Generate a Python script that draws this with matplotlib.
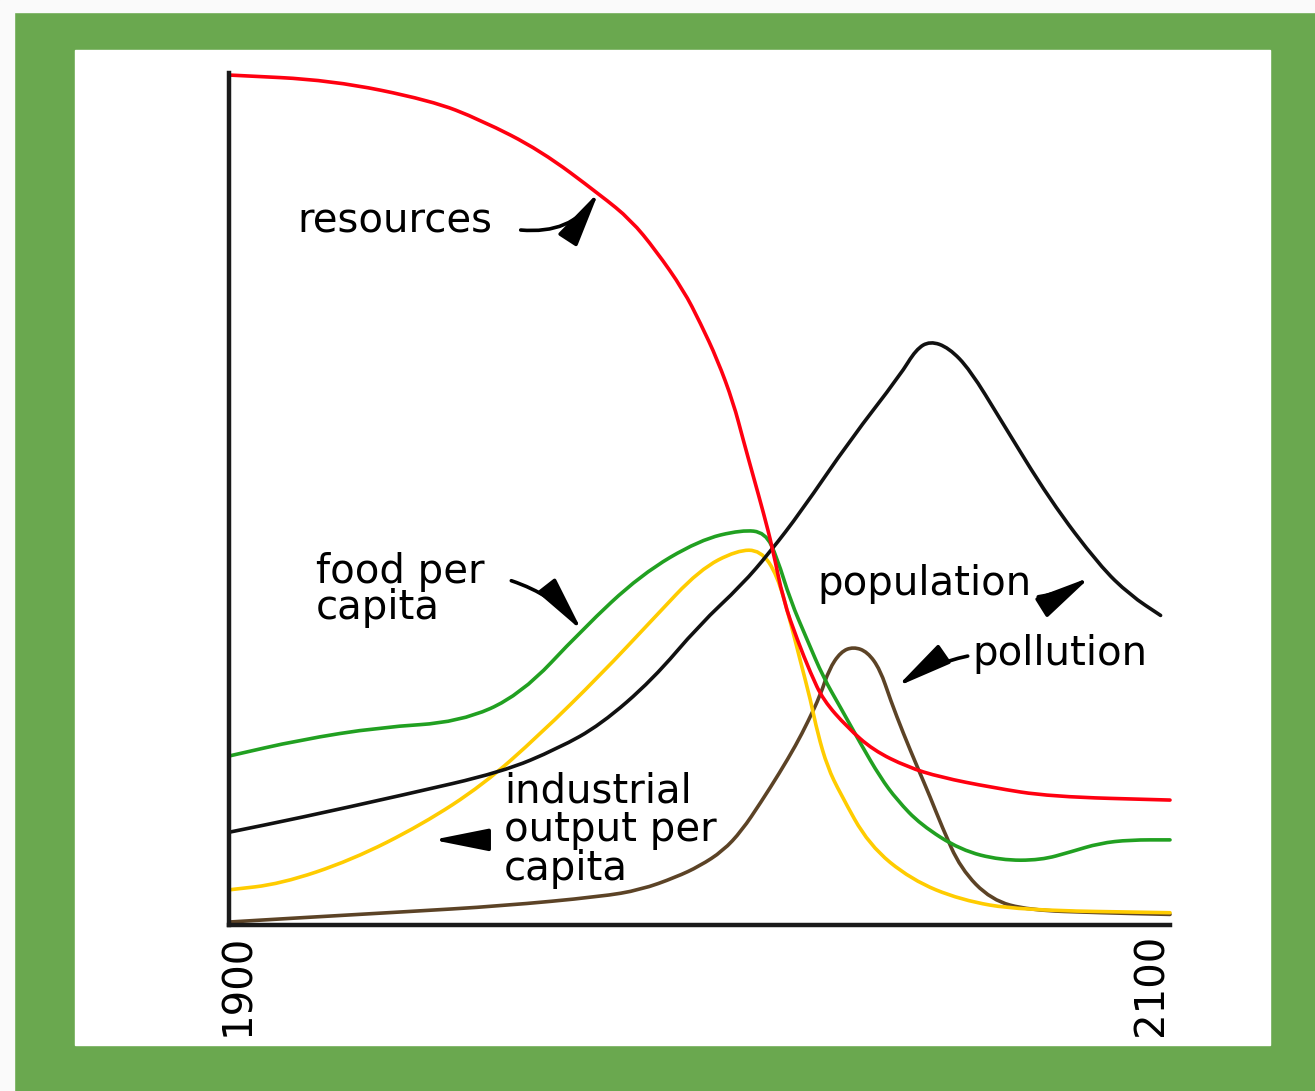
import matplotlib.pyplot as plt
from matplotlib.patches import Rectangle, PathPatch
from matplotlib.path import Path

# values (year, relative level 0-100)
resources_years = [1900, 1921.7, 1942.9, 1953.5, 1966.2, 1979, 1985.4, 1990.7, 1996.6, 2000.2,
                   2003.8, 2007.2, 2009.3, 2011.5, 2013.6, 2015.5, 2017.8, 2020.8, 2023.6, 2026.3,
                   2031.4, 2036.9, 2044.2, 2051.2, 2062, 2074.5, 2100]
resources_vals = [100, 99.4, 97.0, 94.7, 91.1, 85.8, 82.9, 79.3, 74.6, 70.7,
                  66.4, 61.3, 56.9, 52.5, 48.3, 44.2, 38.0, 33.3, 29.4, 26.2,
                  23.0, 20.3, 18.3, 17.1, 15.9, 14.8, 14.4]

population_years = [1900, 1915, 1937, 1958, 1970, 1979, 1990, 2000, 2009, 2015, 2021.5, 2032,
                    2042.7, 2046, 2049, 2053, 2057.5, 2064, 2074.5, 2085, 2091.5, 2098]
population_vals = [10.6, 12.3, 15.0, 17.7, 20.5, 23.3, 28.6, 35.1, 39.8, 43.7, 48.4, 56.9,
                   64.6, 67.6, 68.6, 67.8, 65.2, 59.3, 49.8, 42.1, 38.6, 36.2]

food_years = [1900, 1915, 1932, 1949, 1962, 1975, 1987.5, 2000, 2009, 2014, 2016.5, 2019.3,
              2022.9, 2026.3, 2029.9, 2034.2, 2038.4, 2042, 2047, 2055.5, 2064, 2072.5,
              2079, 2085, 2091.5, 2100]
food_vals = [19.6, 21.5, 23.0, 23.6, 26.8, 34.5, 41.0, 45.1, 46.3, 46.0, 43.0, 38.0,
             33.3, 28.9, 25.4, 21.1, 17.1, 14.4, 11.5, 8.5, 7.3, 7.3,
             8.3, 9.3, 9.7, 9.7]

industry_years = [1900, 1911, 1926, 1941, 1954, 1966, 1979, 1990, 2000, 2008, 2013, 2016.5,
                  2019.3, 2021.4, 2023.6, 2025.1, 2027.2, 2029.9, 2036, 2045, 2055.5, 2068, 2100]
industry_vals = [3.8, 4.5, 7.3, 11.5, 16.2, 22.1, 29.2, 35.7, 41.6, 43.9, 43.9, 41.0,
                 35.5, 30.9, 26.2, 22.3, 18.3, 15.2, 9.1, 5.0, 2.6, 1.4, 1.1]

pollution_years = [1900, 1915, 1937, 1958, 1979, 1987.5, 1995, 2000, 2005, 2009, 2013, 2017,
                   2020.5, 2023, 2025.7, 2027.5, 2030, 2032.7, 2035.7, 2038.4, 2040.6, 2043.3,
                   2046.3, 2049, 2051.5, 2055.5, 2062, 2070, 2085, 2100]
pollution_vals = [0, 0.5, 1.2, 1.9, 3.0, 3.8, 5.3, 6.6, 8.4, 10.8, 14.1, 17.6,
                  20.9, 23.6, 26.8, 29.8, 31.9, 32.5, 31.9, 29.8, 26.2, 22.3,
                  18.3, 14.8, 11.3, 6.3, 2.6, 1.4, 1.1, 0.9]


# smooth curve: read points used as quadratic control points
def smooth_line(ax, xs, ys, color, lw):
    pts = list(zip(xs, ys))
    verts = [pts[0], ((pts[0][0] + pts[1][0]) / 2, (pts[0][1] + pts[1][1]) / 2)]
    codes = [Path.MOVETO, Path.LINETO]
    for i in range(1, len(pts) - 1):
        mid = ((pts[i][0] + pts[i + 1][0]) / 2, (pts[i][1] + pts[i + 1][1]) / 2)
        verts += [pts[i], mid]
        codes += [Path.CURVE3, Path.CURVE3]
    verts.append(pts[-1])
    codes.append(Path.LINETO)
    ax.add_patch(PathPatch(Path(verts, codes), facecolor='none', edgecolor=color,
                           lw=lw, clip_on=False, capstyle='round', joinstyle='round'))


W, H = 1315, 1091
fig = plt.figure(figsize=(W / 100, H / 100), dpi=100)
fig.patch.set_facecolor('#6aa84f')

# light strip top/left and white panel
for r in [Rectangle((0, 0), 14 / W, 1),
          Rectangle((0, 1 - 12 / H), 1, 12 / H)]:
    r.set(transform=fig.transFigure, color='#fafafa', zorder=-5)
    fig.patches.append(r)
panel = Rectangle((75 / W, 1 - 1045 / H), (1270 - 75) / W, (1045 - 50) / H,
                  transform=fig.transFigure, color='white', zorder=-5)
fig.patches.append(panel)

ax = fig.add_axes([229 / W, 1 - 925 / H, (1170 - 229) / W, (925 - 73) / H])
ax.set_zorder(2)
ax.set_facecolor('none')
ax.set_xlim(1900, 2100)
ax.set_ylim(-0.35, 100.24)

lw = 2.6
smooth_line(ax, pollution_years, pollution_vals, '#5c4326', lw)
smooth_line(ax, industry_years, industry_vals, '#ffcc00', lw)
smooth_line(ax, food_years, food_vals, '#21a021', lw)
smooth_line(ax, population_years, population_vals, '#111111', lw)
smooth_line(ax, resources_years, resources_vals, '#ff0010', lw)

for side in ['top', 'right']:
    ax.spines[side].set_visible(False)
for side in ['left', 'bottom']:
    ax.spines[side].set_linewidth(3.2)
    ax.spines[side].set_color('#1a1a1a')
ax.set_xticks([])
ax.set_yticks([])

fs = 29
tkw = dict(fontsize=fs, color='black', family='DejaVu Sans')
ax.text(1914.5, 81.5, 'resources', ha='left', va='baseline', **tkw)
ax.text(1918.5, 35.8, 'food per\ncapita', ha='left', va='baseline', linespacing=0.88, **tkw)
ax.text(1958.5, 5.0, 'industrial\noutput per\ncapita', ha='left', va='baseline', linespacing=0.95, **tkw)
ax.text(2025, 38.6, 'population', ha='left', va='baseline', **tkw)
ax.text(2058, 30.3, 'pollution', ha='left', va='baseline', **tkw)

akw = dict(arrowstyle='-|>,head_length=1.7,head_width=0.34', color='black', lw=2.6,
           mutation_scale=20, shrinkA=0, shrinkB=0)
ax.annotate('', xy=(1978.6, 86.2), xytext=(1962, 81.7),
            arrowprops=dict(connectionstyle='arc3,rad=0.3', **akw))
ax.annotate('', xy=(1975, 34.4), xytext=(1960, 40.3),
            arrowprops=dict(connectionstyle='arc3,rad=-0.15', **akw))
ax.annotate('', xy=(2083, 40.7), xytext=(2072, 38.4),
            arrowprops=dict(connectionstyle='arc3,rad=0.1', **akw))
ax.annotate('', xy=(2042, 27.8), xytext=(2057, 31.4),
            arrowprops=dict(connectionstyle='arc3,rad=0.1', **akw))
ax.annotate('', xy=(1943.3, 9.7), xytext=(1952, 9.7),
            arrowprops=dict(connectionstyle='arc3,rad=0', **akw))

# year labels below the axis ends
ax.text(1900 - 2.3, -1.4, '1900', rotation=90, ha='left', va='top', **tkw)
ax.text(2100 + 0.3, -1.4, '2100', rotation=90, ha='right', va='top', **tkw)

fig.savefig('out.png', dpi=100, facecolor=fig.get_facecolor())
